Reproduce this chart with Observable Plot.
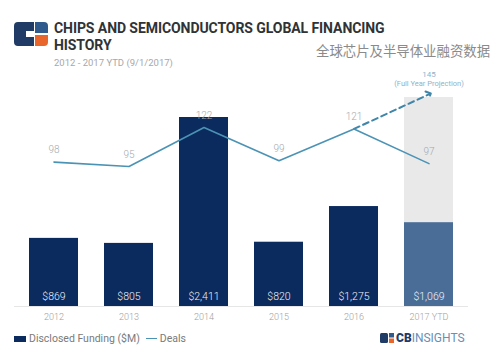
<!DOCTYPE html>
<html><head><meta charset="utf-8">
<script src="https://cdn.jsdelivr.net/npm/d3@7"></script>
<script src="https://cdn.jsdelivr.net/npm/@observablehq/plot@0.6"></script>
<style>
body{margin:0;width:500px;height:359px;position:relative;background:#fff;font-family:Roboto,"Noto Sans",sans-serif;overflow:hidden}
.abs{position:absolute;white-space:nowrap}
#title{left:54px;top:20px;font-weight:700;font-size:15.5px;line-height:17px;color:#2f3336;transform:scaleX(0.905);transform-origin:0 0;letter-spacing:-0.1px}
#sub{left:54px;top:57px;font-size:9.5px;color:#a8a8a8}
#cn{left:316px;top:40px;font-family:"Noto Sans CJK SC";font-size:13.4px;color:#8a8a8a}
#chart{position:absolute;left:0;top:60px}
#legend{left:14px;top:332px;font-size:10.5px;color:#7a7a7a;display:flex;align-items:center}
#brand{left:380px;top:331px;font-size:12px;color:#6a8fb5;display:flex;align-items:center}
</style></head><body>
<svg class="abs" style="left:14px;top:22px" width="34" height="24" viewBox="0 0 34 24">
  <path d="M4 0 H20 V9 H12 V15 H20 V24 H4 Q0 24 0 20 V4 Q0 0 4 0Z" fill="#1f3b66"/>
  <path d="M21 0 H30 Q34 0 34 4 V11 H21Z" fill="#2f5a8e"/>
  <path d="M21 13 H34 V20 Q34 24 30 24 H21Z" fill="#e8662b"/>
</svg>
<div id="title" class="abs">CHIPS AND SEMICONDUCTORS GLOBAL FINANCING<br>HISTORY</div>
<div id="sub" class="abs">2012 - 2017 YTD (9/1/2017)</div>
<div id="cn" class="abs">全球芯片及半导体业融资数据</div>
<div id="chart"></div>
<div id="legend" class="abs"><span style="display:inline-block;width:12px;height:6px;background:#0b2a5e;margin-right:3px"></span>Disclosed Funding ($M)<span style="display:inline-block;width:11px;height:1.5px;background:#4b93b5;margin:0 3px 0 6px"></span>Deals</div>
<div id="brand" class="abs"><svg width="14" height="10" viewBox="0 0 14 10" style="margin-right:2px"><rect x="0" y="0" width="8" height="10" rx="1.5" fill="#1f3b66"/><rect x="9" y="0" width="5" height="4.5" fill="#2f5a8e"/><rect x="9" y="5.5" width="5" height="4.5" fill="#e8662b"/></svg><b style="color:#1f3b66;font-weight:900">CB</b><span>INSIGHTS</span></div>
<script>
const years = ["2012", "2013", "2014", "2015", "2016", "2017 YTD"];
const funding = [869, 805, 2411, 820, 1275, 1069];
const fundingLabels = ["$869", "$805", "$2,411", "$820", "$1,275", "$1,069"];
const deals = [98, 95, 122, 99, 121, 97];
const projectedDeals = 145;
const projectionBand = 2666; // gray full-year projection backdrop (estimated)

const rows = years.map((y, i) => ({year: y, funding: funding[i], label: fundingLabels[i], deals: deals[i]}));
// secondary axis for deals mapped into the funding axis
const dealsToY = d3.scaleLinear().domain([0, 145]).range([36, 2707]);
const proj = [
  {year: years[4], deals: deals[4]},
  {year: years[5], deals: projectedDeals}
];

const chart = Plot.plot({
  width: 500,
  height: 265,
  marginTop: 20,
  marginBottom: 19,
  marginLeft: 14,
  marginRight: 32,
  style: {background: "transparent", overflow: "visible", fontFamily: "Roboto, sans-serif"},
  x: {domain: years, paddingInner: 0.34, paddingOuter: 0.17, label: null, tickSize: 0, tickPadding: 7},
  y: {domain: [0, 2883], axis: null},
  marks: [
    Plot.barY([{year: years[5], v: projectionBand}], {x: "year", y: "v", fill: "#e9e9ea"}),
    Plot.ruleY([0], {stroke: "#e6e6e6", strokeWidth: 1}),
    Plot.barY(rows, {x: "year", y: "funding", fill: d => d.year === "2017 YTD" ? "#4a6d98" : "#0b2a5e"}),
    Plot.text(rows, {x: "year", y: 0, text: "label", dy: -10, fill: "#f2f4f8", fontSize: 10.5, fontWeight: 300}),
    Plot.line(proj, {x: "year", y: d => dealsToY(d.deals), stroke: "#3f86a8", strokeWidth: 2, strokeDasharray: "6,4", markerEnd: "arrow"}),
    Plot.line(rows, {x: "year", y: d => dealsToY(d.deals), stroke: "#4b93b5", strokeWidth: 1.6}),
    Plot.text(rows, {x: "year", y: d => dealsToY(d.deals), text: d => String(d.deals), dy: -12, fill: "#a3aab2", fontSize: 10, fontWeight: 300}),
    Plot.text([proj[1]], {x: "year", y: d => dealsToY(d.deals), text: d => String(d.deals), dy: -20, fill: "#8fb2c9", fontSize: 8}),
    Plot.text([proj[1]], {x: "year", y: d => dealsToY(d.deals), text: () => "(Full Year Projection)", dy: -11, fill: "#8fb2c9", fontSize: 7.5}),
    Plot.axisX({tickSize: 0, tickPadding: 7, fontSize: 9, fontWeight: 300, color: "#a0a0a0", label: null})
  ]
});
document.getElementById("chart").append(chart);
</script>
</body></html>
